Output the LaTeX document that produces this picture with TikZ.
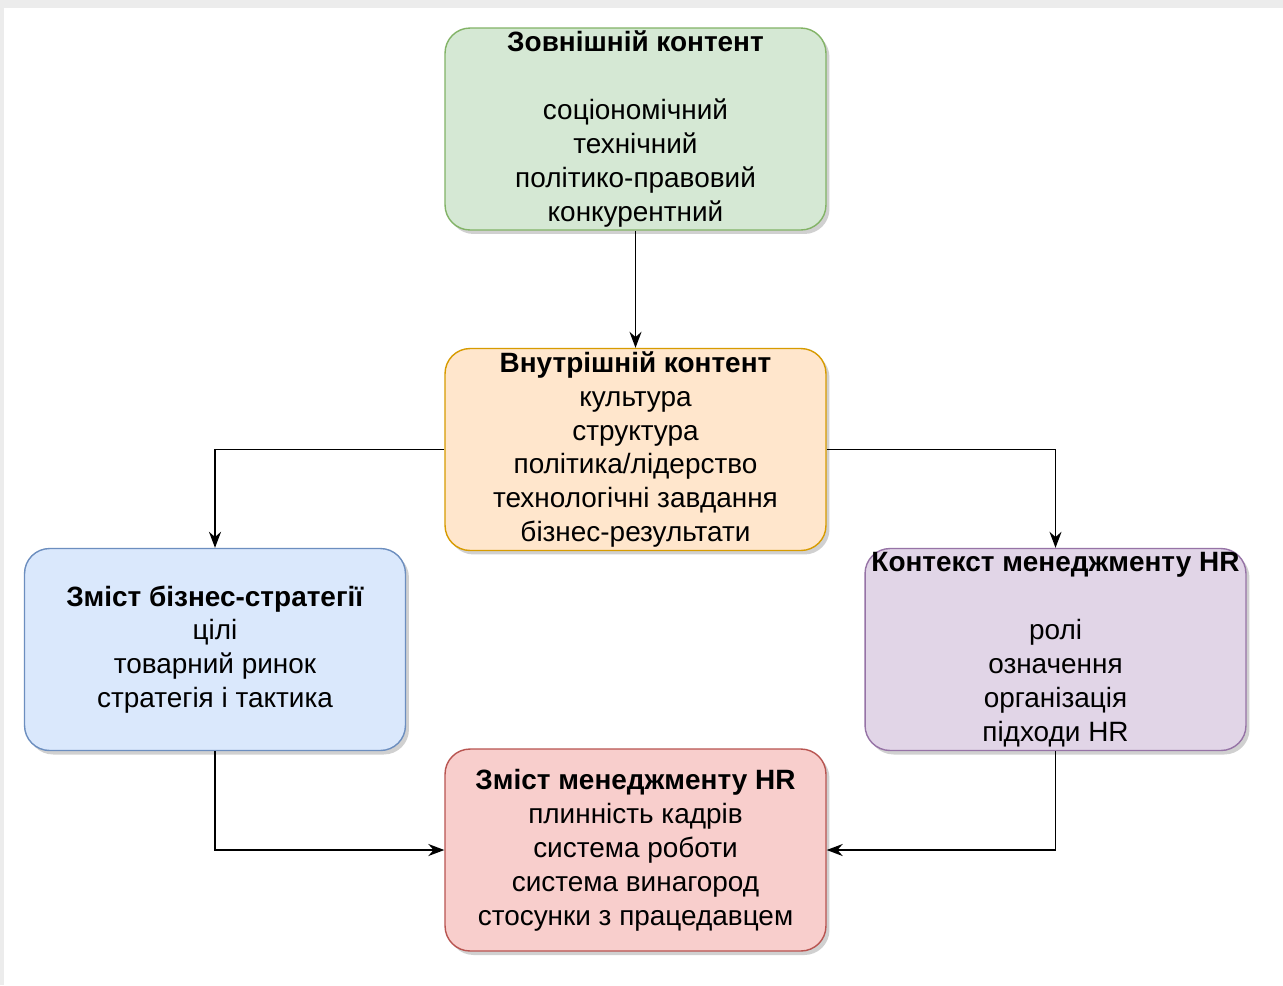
\documentclass[tikz,border=0pt]{standalone}
\usepackage{fontspec}
\setmainfont{Liberation Sans}
\usepackage{tikz}
\usetikzlibrary{arrows.meta,shadows,backgrounds}

\definecolor{greenfill}{HTML}{D5E8D4}
\definecolor{greenline}{HTML}{82B366}
\definecolor{orangefill}{HTML}{FFE6CC}
\definecolor{orangeline}{HTML}{D79B00}
\definecolor{bluefill}{HTML}{DAE8FC}
\definecolor{blueline}{HTML}{6C8EBF}
\definecolor{purplefill}{HTML}{E1D5E7}
\definecolor{purpleline}{HTML}{9673A6}
\definecolor{redfill}{HTML}{F8CECC}
\definecolor{redline}{HTML}{B85450}
\definecolor{framegray}{HTML}{ECECEC}

\tikzset{
    block/.style = {draw, rounded corners=0.5cm, line width=0.8pt, align=center,
        minimum width=7.62cm, minimum height=4.04cm, inner sep=0pt,
        font=\fontsize{15.9}{19.3}\selectfont,
        drop shadow={shadow xshift=0.07cm, shadow yshift=-0.08cm, opacity=0.3, fill=black!60}},
    link/.style = {draw, line width=1.05pt, -{Stealth[length=0.32cm, width=0.24cm]}}
}

\begin{document}
\begin{tikzpicture}[x=0.02cm, y=-0.02cm]
        \fill[framegray] (0,0) rectangle (1283,985);
        \fill[white] (4,8) rectangle (1283,985);
        \useasboundingbox (0,0) rectangle (1283,985);

        \node[block, fill=greenfill, draw=greenline] (zovn) at (635.5,129) {\textbf{Зовнішній контент}\\[19.3pt]соціономічний\\технічний\\політико-правовий\\конкурентний};
        \node[block, fill=orangefill, draw=orangeline] (vnutr) at (635.5,449.5) {\textbf{Внутрішній контент}\\культура\\структура\\політика/лідерство\\технологічні завдання\\бізнес-результати};
        \node[block, fill=bluefill, draw=blueline] (biznes) at (215,649.5) {\textbf{Зміст бізнес-стратегії}\\цілі\\товарний ринок\\стратегія і тактика};
        \node[block, fill=purplefill, draw=purpleline] (kontekst) at (1055.5,649.5) {\textbf{Контекст менеджменту HR}\\[19.3pt]ролі\\означення\\організація\\підходи HR};
        \node[block, fill=redfill, draw=redline] (zmist) at (635.5,850) {\textbf{Зміст менеджменту HR}\\плинність кадрів\\система роботи\\система винагород\\стосунки з працедавцем};

        \draw[link] (zovn) -- (vnutr);
        \draw[link] (vnutr.west) -| (biznes.north);
        \draw[link] (vnutr.east) -| (kontekst.north);
        \draw[link] (biznes.south) |- (zmist.west);
        \draw[link] (kontekst.south) |- (zmist.east);

    \end{tikzpicture}
\end{document}
